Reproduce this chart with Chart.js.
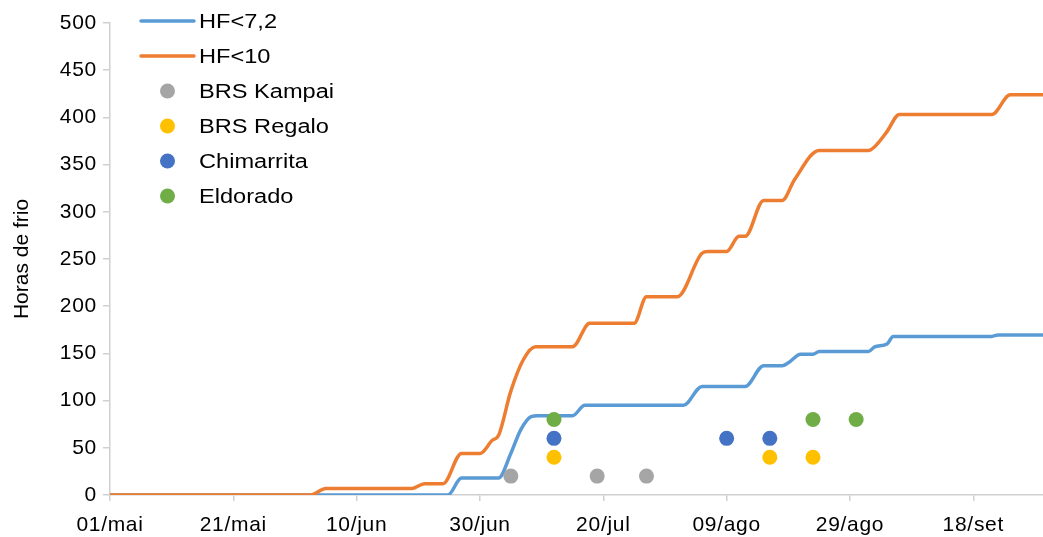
<!DOCTYPE html>
<html>
<head>
<meta charset="utf-8">
<script src="https://cdn.jsdelivr.net/npm/chart.js@4/dist/chart.umd.min.js"></script>
<style>
  body { margin: 0; background: #fff; }
  #wrap { width: 1043px; height: 537px; position: relative; }
</style>
</head>
<body>
<div id="wrap"><canvas id="myChart"></canvas></div>
<script>
// days counted from 01/mai
const tickDays = [0, 20, 40, 60, 80, 100, 120, 140];
const tickLabels = ["01/mai", "21/mai", "10/jun", "30/jun", "20/jul", "09/ago", "29/ago", "18/set"];

const hf72Days = [0, 54.8, 57, 63, 65, 66.6, 68.3, 69.4, 75, 77, 93, 96, 103, 106, 109, 110, 112, 114, 115, 123, 124, 126, 127, 143, 144, 152];
const hf72Hours = [0, 0, 18, 18, 44, 69, 83, 84, 84, 95, 95, 115, 115, 137, 137, 140, 149, 149, 152, 152, 157, 160, 168, 168, 169.5, 169.5];

const hf10Days = [0, 32.5, 35, 49, 51, 54, 57, 60, 62, 63, 65, 67, 69, 75, 77.8, 85, 87, 92, 96, 97, 100, 102, 103, 106, 109, 111, 115, 123, 124, 126, 128, 143, 146, 152];
const hf10Hours = [0, 0, 7, 7, 12, 12, 44, 44, 58, 63, 110, 143, 157, 157, 182, 182, 210, 210, 256, 258, 258, 274, 274, 312, 312, 334, 365, 365, 369, 385, 403, 403, 424, 424];

const kampaiDays = [65, 79, 87];
const kampaiHours = [20, 20, 20];
const regaloDays = [72, 107, 114];
const regaloHours = [40, 40, 40];
const chimarritaDays = [72, 100, 107];
const chimarritaHours = [60, 60, 60];
const eldoradoDays = [72, 114, 121];
const eldoradoHours = [80, 80, 80];

const toPoints = (xs, ys) => xs.map((x, i) => ({ x: x, y: ys[i] }));

const FONT = "'Liberation Sans', Arial, sans-serif";
const axisColor = "#D0D0D0";

// the original text is a bit wide, so tick labels get some letter spacing
const textSpacing = {
  id: "textSpacing",
  beforeDraw(chart) {
    chart.ctx.letterSpacing = "0px";
  },
  beforeDatasetsDraw(chart) {
    chart.ctx.letterSpacing = "0.7px";
  },
};

// legend drawn inside the plot, top left
const insideLegend = {
  id: "insideLegend",
  afterDraw(chart) {
    const ctx = chart.ctx;
    ctx.save();
    ctx.letterSpacing = "0px";
    ctx.font = "20px " + FONT;
    ctx.textBaseline = "middle";
    ctx.textAlign = "left";
    chart.data.datasets.forEach((ds, i) => {
      const y = 21 + 35 * i;
      if (ds.type === "scatter") {
        ctx.fillStyle = ds.backgroundColor;
        ctx.beginPath();
        ctx.arc(167.5, y, 7.5, 0, Math.PI * 2);
        ctx.fill();
      } else {
        ctx.strokeStyle = ds.borderColor;
        ctx.lineWidth = 3.5;
        ctx.lineCap = "round";
        ctx.beginPath();
        ctx.moveTo(141, y);
        ctx.lineTo(194, y);
        ctx.stroke();
      }
      ctx.save();
      ctx.translate(199, y + 1);
      ctx.scale(1.18, 1);
      ctx.fillStyle = "#000";
      ctx.fillText(ds.label, 0, 0);
      ctx.restore();
    });
    ctx.restore();
  },
};

const chartIt = () => {
  const ctx = document.getElementById("myChart").getContext("2d");
  Chart.defaults.font.family = FONT;
  Chart.defaults.font.size = 21;
  Chart.defaults.color = "#000";

  const scatterSet = (label, xs, ys, color) => ({
    type: "scatter",
    label: label,
    data: toPoints(xs, ys),
    backgroundColor: color,
    borderWidth: 0,
    pointRadius: 7.5,
    pointHoverRadius: 7.5,
    order: 0,
  });

  new Chart(ctx, {
    type: "line",
    data: {
      datasets: [
        {
          label: "HF<7,2",
          data: toPoints(hf72Days, hf72Hours),
          borderColor: "#5B9BD5",
          borderWidth: 3.5,
          pointRadius: 0,
          cubicInterpolationMode: "monotone",
          order: 2,
        },
        {
          label: "HF<10",
          data: toPoints(hf10Days, hf10Hours),
          borderColor: "#ED7D31",
          borderWidth: 3.5,
          pointRadius: 0,
          cubicInterpolationMode: "monotone",
          order: 1,
        },
        scatterSet("BRS Kampai", kampaiDays, kampaiHours, "#A5A5A5"),
        scatterSet("BRS Regalo", regaloDays, regaloHours, "#FFC000"),
        scatterSet("Chimarrita", chimarritaDays, chimarritaHours, "#4472C4"),
        scatterSet("Eldorado", eldoradoDays, eldoradoHours, "#70AD47"),
      ],
    },
    options: {
      responsive: true,
      maintainAspectRatio: false,
      animation: false,
      layout: { autoPadding: false, padding: { top: 23, right: 0, left: 0, bottom: 0 } },
      plugins: {
        legend: { display: false },
        tooltip: { enabled: false },
      },
      scales: {
        x: {
          type: "linear",
          min: 0,
          max: 151.3,
          afterBuildTicks: (scale) => {
            scale.ticks = tickDays.map((v) => ({ value: v }));
          },
          afterFit: (scale) => {
            scale.height = 42;
            scale.paddingRight = 0;
          },
          ticks: {
            autoSkip: false,
            maxRotation: 0,
            padding: 12,
            z: 1,
            callback: (value) => tickLabels[tickDays.indexOf(value)],
          },
          grid: {
            drawOnChartArea: false,
            drawTicks: true,
            tickLength: 6,
            color: axisColor,
            lineWidth: 1.5,
          },
          border: { display: true, color: axisColor, width: 1.5 },
        },
        y: {
          min: 0,
          max: 500,
          afterFit: (scale) => {
            scale.width = 110;
          },
          ticks: { stepSize: 50, padding: 6, z: 1 },
          title: {
            display: true,
            text: "Horas de frio",
            font: { size: 21 },
            padding: { top: 10, bottom: 0 },
          },
          grid: {
            drawOnChartArea: false,
            drawTicks: true,
            tickLength: 7,
            color: axisColor,
            lineWidth: 1.5,
          },
          border: { display: true, color: axisColor, width: 1.5 },
        },
      },
    },
    plugins: [textSpacing, insideLegend],
  });
};

chartIt();
</script>
</body>
</html>
